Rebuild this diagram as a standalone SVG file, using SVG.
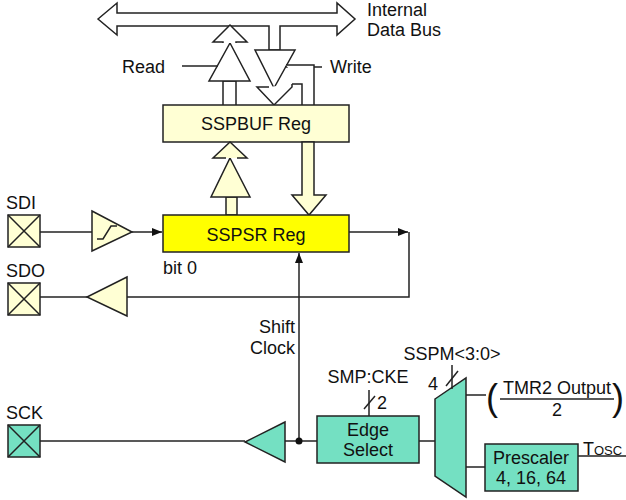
<svg xmlns="http://www.w3.org/2000/svg" width="626" height="500" viewBox="0 0 626 500">
<defs>
<style>
text{font-family:"Liberation Sans",Arial,sans-serif;font-size:18px;fill:#111}
.ln{stroke:#222;stroke-width:1.5;fill:none}
.py{fill:#ffffd4;stroke:#222;stroke-width:1.5}
.gr{fill:#74e0c2;stroke:#222;stroke-width:1.5}
.wh{fill:#fff;stroke:#222;stroke-width:1.5}
</style>
<marker id="ah" markerWidth="10" markerHeight="8" refX="10" refY="4" orient="auto" markerUnits="userSpaceOnUse"><path d="M0,0 L10,4 L0,8 Z" fill="#111"/></marker>
</defs>
<rect width="626" height="500" fill="#fff"/>
<g id="bus">
<path class="wh" d="M98,19 L117,3 L117,13 L337,13 L337,3 L355,19 L337,35 L337,26 L280,26 L280,50 L269,50 L269,26 L117,26 L117,35 Z"/>
<text x="367" y="16">Internal</text><text x="367" y="36">Data Bus</text>
</g>
<g id="read">
<path class="wh" d="M223,105 L223,81 L236,81 L236,105"/>
<path class="wh" d="M230,43 L250,81 L209,81 Z"/>
<path class="wh" d="M223,43 L223,42 L213,42 L230,25 L247,42 L236,42 L236,43"/>
<line class="ln" x1="182" y1="66" x2="218" y2="66"/>
<text x="122" y="73">Read</text>
</g>
<g id="write">
<path class="wh" d="M255,50 L295,50 L274,88 Z"/>
<line class="ln" x1="285" y1="67" x2="322" y2="67"/>
<path class="wh" d="M286,65 L314,65 L314,105 M302,105 L302,84 L292,84"/>
<path class="wh" d="M292,84 L292,87 L274,105 L257,87 L269,87"/>
<text x="330" y="73">Write</text>
</g>
<g id="sspbuf">
<rect class="py" x="163" y="105" width="186" height="37"/>
<text x="256" y="130" text-anchor="middle">SSPBUF Reg</text>
</g>
<g id="buf2sr">
<path class="py" d="M302,142 L314,142 L314,195 L326,195 L309,215 L292,195 L302,195 Z"/>
</g>
<g id="sr2buf">
<path class="py" d="M226,215 L226,197 L237,197 L237,215 Z"/>
<path class="py" d="M230,158 L250,197 L211,197 Z"/>
<path class="py" d="M226,158 L213,158 L230,142 L247,158 L237,158"/>
</g>
<g id="sspsr">
<rect x="163" y="215" width="186" height="37" fill="#ffff00" stroke="#222" stroke-width="1.5"/>
<text x="256" y="241" text-anchor="middle">SSPSR Reg</text>
<text x="163" y="274">bit 0</text>
</g>
<g id="sdi">
<rect class="py" x="8" y="215" width="32" height="32"/>
<path class="ln" d="M8,215 L40,247 M40,215 L8,247" stroke-width="1"/>
<text x="6" y="209">SDI</text>
<path class="py" d="M92,211 L132,232 L92,251 Z"/>
<path class="ln" d="M97,239 L103,239 L111,226 L117,226" stroke-width="1.2"/>
</g>
<g id="sdo">
<rect class="py" x="8" y="283" width="32" height="32"/>
<path class="ln" d="M8,283 L40,315 M40,283 L8,315" stroke-width="1"/>
<text x="6" y="277">SDO</text>
<path class="py" d="M127,277 L87,297 L127,316 Z"/>
</g>
<g id="sck">
<rect fill="#74e0c2" stroke="#222" stroke-width="1.5" x="8" y="425" width="32" height="32"/>
<path class="ln" d="M8,425 L40,457 M40,425 L8,457" stroke-width="1"/>
<text x="6" y="419">SCK</text>
<path class="gr" d="M285,422 L245,442 L285,462 Z"/>
</g>
<g id="edge">
<rect class="gr" x="317" y="416" width="102" height="47"/>
<text x="368" y="436" text-anchor="middle">Edge</text>
<text x="368" y="456" text-anchor="middle">Select</text>
<text x="368" y="383" text-anchor="middle">SMP:CKE</text>
<line class="ln" x1="369" y1="390" x2="369" y2="416"/>
<line class="ln" x1="364" y1="409" x2="375" y2="396"/>
<text x="377" y="409">2</text>
</g>
<g id="mux">
<path class="gr" d="M435,399 L466,378 L466,497 L435,476 Z"/>
<text x="452" y="360" text-anchor="middle">SSPM&lt;3:0&gt;</text>
<line class="ln" x1="452" y1="365" x2="452" y2="389"/>
<line class="ln" x1="446" y1="386" x2="458" y2="371"/>
<text x="428" y="390">4</text>
</g>
<g id="tmr2">
<text x="557" y="394" text-anchor="middle">TMR2 Output</text>
<line class="ln" x1="500" y1="399" x2="614" y2="399"/>
<text x="557" y="416" text-anchor="middle">2</text>
<text x="486" y="410" style="font-size:36px">(</text>
<text x="612" y="410" style="font-size:36px">)</text>
</g>
<g id="prescaler">
<rect class="gr" x="485" y="444" width="93" height="47"/>
<text x="531" y="464" text-anchor="middle">Prescaler</text>
<text x="531" y="484" text-anchor="middle">4, 16, 64</text>
<text x="583" y="455">T<tspan style="font-size:13px">OSC</tspan></text>
</g>
<g id="connectors">
<line class="ln" x1="40" y1="232" x2="92" y2="232"/>
<line class="ln" x1="132" y1="232" x2="162" y2="232" marker-end="url(#ah)"/>
<line class="ln" x1="349" y1="232" x2="408" y2="232" marker-end="url(#ah)"/>
<path class="ln" d="M409,232 L409,297 L127,297"/>
<line class="ln" x1="40" y1="297" x2="87" y2="297"/>
<line class="ln" x1="40" y1="441" x2="245" y2="441"/>
<line class="ln" x1="285" y1="441" x2="317" y2="441"/>
<line class="ln" x1="299" y1="441" x2="299" y2="253" marker-end="url(#ah)"/>
<circle cx="299" cy="441" r="3.5" fill="#111"/>
<line class="ln" x1="419" y1="441" x2="435" y2="441"/>
<line class="ln" x1="466" y1="395" x2="486" y2="395"/>
<line class="ln" x1="466" y1="467" x2="485" y2="467"/>
<line class="ln" x1="578" y1="456" x2="626" y2="456"/>
<text x="295" y="333" text-anchor="end">Shift</text>
<text x="295" y="354" text-anchor="end">Clock</text>
</g>
</svg>
